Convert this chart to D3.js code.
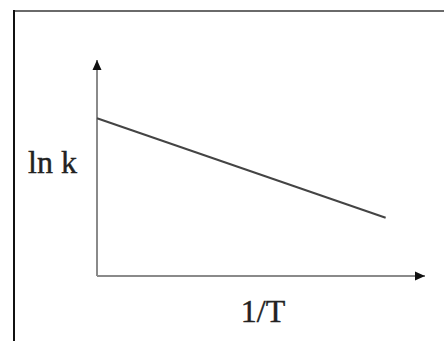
<!DOCTYPE html>
<html>
<head>
<meta charset="utf-8">
<script src="https://cdn.jsdelivr.net/npm/d3@7"></script>
<style>
  html, body { margin: 0; padding: 0; background: #fff; }
  svg { display: block; }
</style>
</head>
<body>
<script>
// Arrhenius plot: ln k falls linearly with 1/T
const invT = [0, 8.8];
const lnK = [7.3, 2.7];
const axisLabels = ["1/T", "ln k"];

const W = 444, H = 341;
const svg = d3.select("body").append("svg").attr("width", W).attr("height", H);

// frame: top and left rules
svg.append("line").attr("x1", 14).attr("x2", W).attr("y1", 11).attr("y2", 11)
  .attr("stroke", "#6a6a6a").attr("stroke-width", 2);
svg.append("line").attr("x1", 14).attr("x2", 14).attr("y1", 10).attr("y2", H)
  .attr("stroke", "#111").attr("stroke-width", 2);

const x = d3.scaleLinear().domain([0, 10]).range([97, 425]);
const y = d3.scaleLinear().domain([0, 10]).range([276, 60]);

const defs = svg.append("defs");
defs.append("marker").attr("id", "arrow")
  .attr("viewBox", "0 0 10 10").attr("refX", 10).attr("refY", 5)
  .attr("markerWidth", 10).attr("markerHeight", 10).attr("markerUnits", "userSpaceOnUse")
  .attr("orient", "auto")
  .append("path").attr("d", "M0,0.5 L10,5 L0,9.5 Z").attr("fill", "#111");

// axes with arrowheads
svg.append("line")
  .attr("x1", x(0)).attr("y1", y(0)).attr("x2", x(10)).attr("y2", y(0))
  .attr("stroke", "#8a8a8a").attr("stroke-width", 2).attr("marker-end", "url(#arrow)");
svg.append("line")
  .attr("x1", x(0)).attr("y1", y(0)).attr("x2", x(0)).attr("y2", y(10))
  .attr("stroke", "#8a8a8a").attr("stroke-width", 2).attr("marker-end", "url(#arrow)");

// the line
const pts = invT.map((v, i) => [v, lnK[i]]);
svg.append("path")
  .attr("d", d3.line().x(d => x(d[0])).y(d => y(d[1]))(pts))
  .attr("fill", "none").attr("stroke", "#444").attr("stroke-width", 2);

// labels
const serif = "'Liberation Serif', 'Times New Roman', serif";
svg.append("text").attr("x", 263).attr("y", 322).attr("text-anchor", "middle")
  .attr("font-family", serif).attr("font-size", 32)
  .attr("fill", "#222").attr("stroke", "#222").attr("stroke-width", 0.4)
  .text(axisLabels[0]);
svg.append("text").attr("x", 28).attr("y", 173)
  .attr("font-family", serif).attr("font-size", 32)
  .attr("fill", "#222").attr("stroke", "#222").attr("stroke-width", 0.4)
  .text(axisLabels[1]);
</script>
</body>
</html>
